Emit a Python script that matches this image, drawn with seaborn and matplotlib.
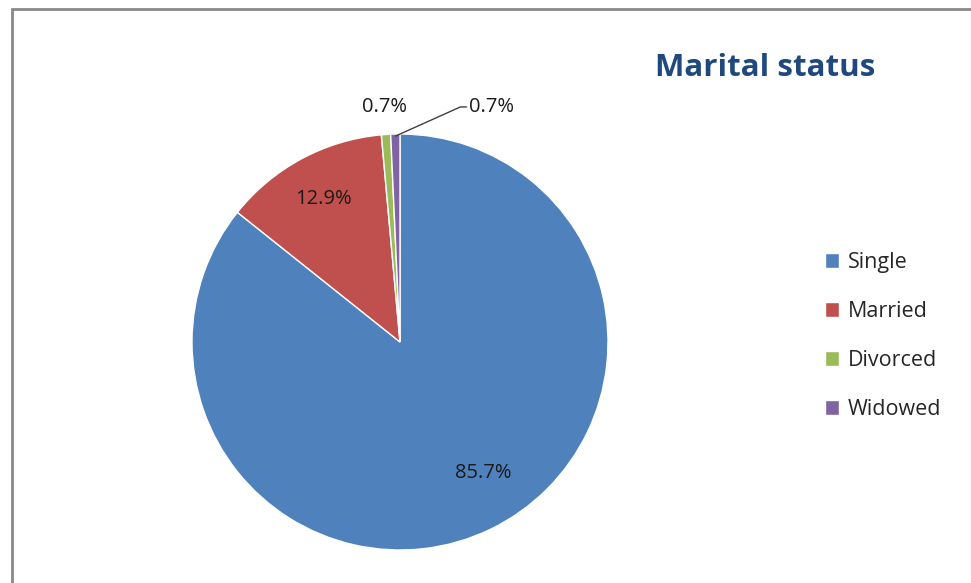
import numpy as np
import matplotlib
matplotlib.use('Agg')
import matplotlib.pyplot as plt
import seaborn as sns
from matplotlib.patches import Rectangle

# Data (counts giving 85.7 / 12.9 / 0.7 / 0.7 %)
statuses = ['Single', 'Married', 'Divorced', 'Widowed']
counts = [120, 18, 1, 1]
colors = ['#4F81BD', '#C0504D', '#9BBB59', '#8064A2']

sns.set_theme(style='white')
plt.rcParams['font.family'] = ['Open Sans', 'DejaVu Sans']

fig = plt.figure(figsize=(9.71, 5.83), dpi=100)

# Gray chart frame (right and bottom edges fall outside the picture)
fig.patches.append(Rectangle((12 / 971, -0.05), 1.1, (583 - 9) / 583 + 0.05,
                             transform=fig.transFigure, fill=False,
                             edgecolor='#888888', linewidth=2))

ax = fig.add_axes([192 / 971, 33 / 583, 416 / 971, 416 / 583])
wedges, texts, autotexts = ax.pie(counts, colors=colors, startangle=90, counterclock=False,
                                  autopct='%1.1f%%', pctdistance=0.78,
                                  wedgeprops=dict(edgecolor='white', linewidth=1),
                                  textprops=dict(fontsize=14.5, color='#1a1a1a'))
ax.set_xlim(-1, 1)
ax.set_ylim(-1, 1)
ax.set_aspect('equal')

# Label placement like Excel
autotexts[0].set_position((0.40, -0.63))
angles = [np.deg2rad((w.theta1 + w.theta2) / 2) for w in wedges]
a_div = angles[2]
autotexts[2].set_position((1.13 * np.cos(a_div), 1.13 * np.sin(a_div)))
a_wid = angles[3]
autotexts[3].set_position((0.44, 1.13))
edge = (np.cos(a_wid) * 0.99, np.sin(a_wid) * 0.99)
ax.plot([edge[0], 0.29, 0.32], [edge[1], 1.13, 1.13], color='#404040', linewidth=1,
        clip_on=False)

fig.text(765 / 971, 1 - 68 / 583, 'Marital status', ha='center', va='center',
         fontsize=22.5, fontweight='bold', color='#1F497D')

fig.legend(wedges, statuses, loc='center left', bbox_to_anchor=(806 / 971, 1 - 336 / 583),
           frameon=False, fontsize=15.5, handlelength=0.65, handleheight=0.65,
           handletextpad=0.4, labelspacing=1.3)

fig.savefig('out.png', dpi=100)
